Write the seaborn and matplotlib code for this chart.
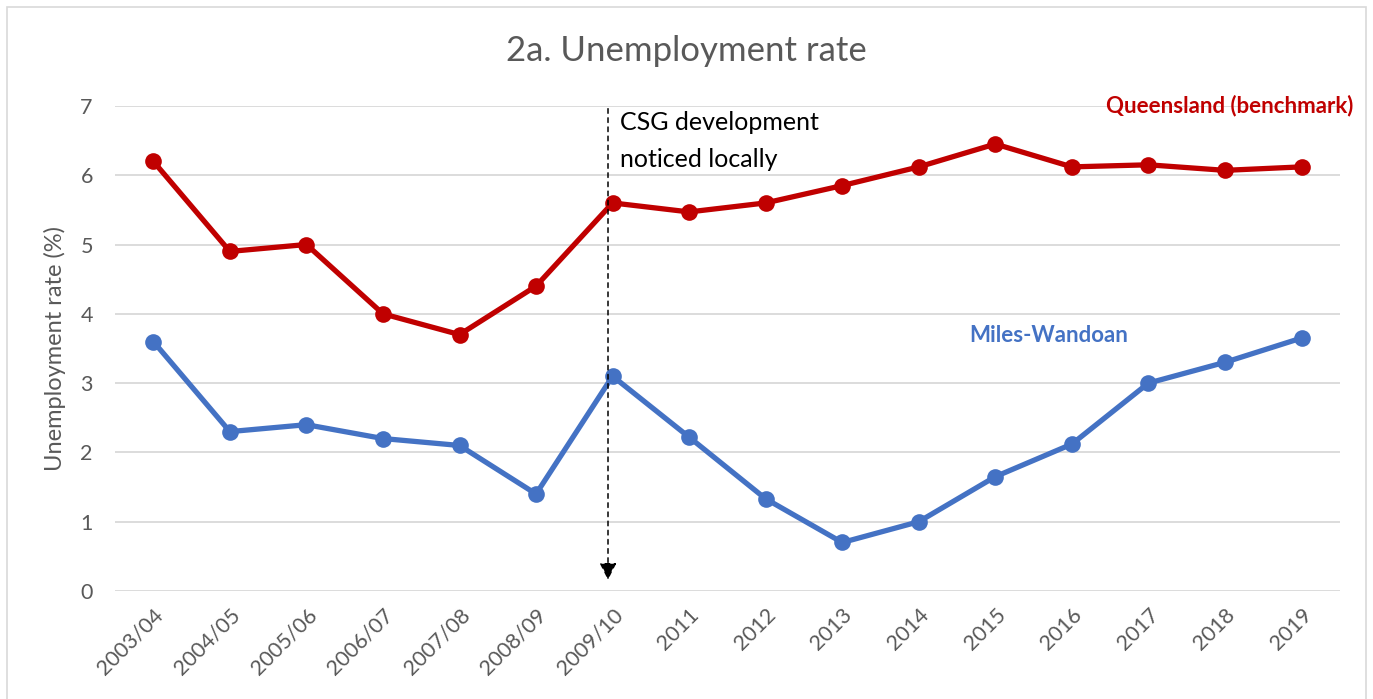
import matplotlib
matplotlib.use("Agg")
import matplotlib.pyplot as plt
import seaborn as sns
import pandas as pd

periods = ["2003/04", "2004/05", "2005/06", "2006/07", "2007/08", "2008/09", "2009/10",
           "2011", "2012", "2013", "2014", "2015", "2016", "2017", "2018", "2019"]
queensland = [6.2, 4.9, 5.0, 4.0, 3.7, 4.4, 5.6, 5.47, 5.6, 5.85, 6.12, 6.45, 6.12, 6.15, 6.07, 6.12]
miles_wandoan = [3.6, 2.3, 2.4, 2.2, 2.1, 1.4, 3.1, 2.22, 1.33, 0.7, 1.0, 1.65, 2.12, 3.0, 3.3, 3.65]

sns.set_theme(style="white")
plt.rcParams['font.family'] = ['Lato', 'DejaVu Sans']

df = pd.DataFrame({"x": list(range(len(periods))) * 2,
                   "rate": queensland + miles_wandoan,
                   "series": ["Queensland (benchmark)"] * len(periods) + ["Miles-Wandoan"] * len(periods)})

fig = plt.figure(figsize=(13.73, 6.99), dpi=100)
ax = fig.add_axes([0.0838, 0.1545, 0.892, 0.694])

# figure border
fig.patches.append(plt.Rectangle((0.005, -0.01), 0.99, 1.0, transform=fig.transFigure,
                                 fill=False, edgecolor="#d9d9d9", linewidth=1.2))

palette = {"Queensland (benchmark)": "#C00000", "Miles-Wandoan": "#4472C4"}
sns.lineplot(data=df, x="x", y="rate", hue="series", palette=palette, ax=ax,
             marker="o", markersize=12, linewidth=3.8, markeredgewidth=0, legend=False, zorder=3)

ax.set_xlim(-0.5, 15.5)
ax.set_ylim(0, 7)
ax.set_yticks(range(0, 8))
ax.yaxis.grid(True, color="#d9d9d9", linewidth=1.3)
ax.set_axisbelow(True)
for s in ax.spines.values():
    s.set_visible(False)
ax.set_xticks(range(len(periods)))
ax.set_xticklabels(periods, rotation=45, ha="right", rotation_mode="anchor")
ax.tick_params(axis="both", colors="#595959", labelsize=15.5, length=0)
ax.tick_params(axis="x", pad=10)
ax.tick_params(axis="y", pad=16)
ax.set_xlabel("")
ax.set_ylabel("Unemployment rate (%)", color="#595959", fontsize=17, labelpad=10)

fig.text(0.5, 0.927, "2a. Unemployment rate", ha="center", va="center", fontsize=25, color="#595959")

# annotation arrow
ax.annotate("", xy=(5.94, 0.12), xytext=(5.94, 7.0),
            arrowprops=dict(arrowstyle="-|>", linestyle=(0, (3, 3)), color="black", lw=1.1,
                            mutation_scale=26))
ax.text(6.1, 6.93, "CSG development\nnoticed locally", ha="left", va="top", fontsize=18,
        color="black", linespacing=1.75)

ax.text(15.68, 7.0, "Queensland (benchmark)", ha="right", va="center", fontsize=16,
        fontweight="bold", color="#C00000", clip_on=False)
ax.text(11.7, 3.68, "Miles-Wandoan", ha="center", va="center", fontsize=16,
        fontweight="bold", color="#4472C4")

fig.savefig("out.png", dpi=100)
